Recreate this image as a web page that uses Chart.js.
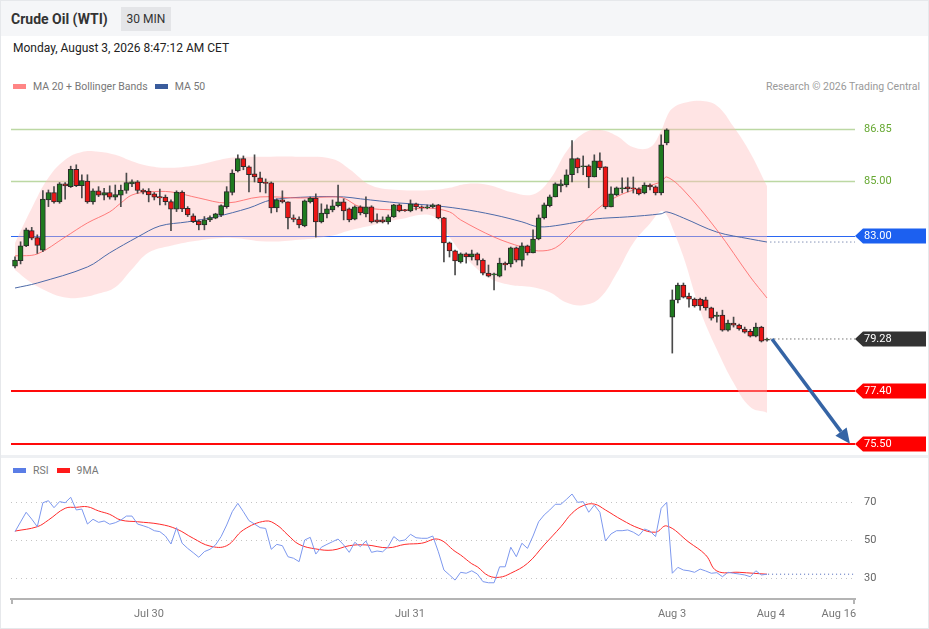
<!DOCTYPE html>
<html>
<head>
<meta charset="utf-8">
<script src="https://cdn.jsdelivr.net/npm/chart.js"></script>
<style>
    body { margin: 0; background: #fff; font-family: Roboto, "Liberation Sans", Arial, sans-serif; }
    #wrap { position: relative; width: 929px; height: 629px; overflow: hidden; background: #fff; }
    #frame { position: absolute; left: 0; top: 0; width: 927px; height: 627px; border: 1px solid #e6e8eb; }
    #topbar { position: absolute; left: 1px; top: 1px; width: 927px; height: 35px; background: #f5f6f8; }
    #title { position: absolute; left: 11px; top: 10px; font-size: 14px; line-height: 18px; font-weight: bold; color: #333; }
    #tf { position: absolute; left: 121px; top: 7px; width: 50px; height: 24px; line-height: 24px; background: #e4e5e8; font-size: 12px; color: #333; text-align: center; }
    #date { position: absolute; left: 13px; top: 41px; font-size: 12px; line-height: 14px; color: #222; }
    .leg { position: absolute; font-size: 10.5px; line-height: 12px; color: #777; white-space: nowrap; }
    .leg i { display: inline-block; width: 13px; height: 5px; margin: 0 7px 1px 0; vertical-align: middle; }
    #credit { position: absolute; right: 9px; top: 81px; font-size: 10.5px; line-height: 12px; color: #999; }
    #sep { position: absolute; left: 1px; top: 455px; width: 927px; height: 3px; background: #eef0f3; }
    canvas { position: absolute; left: 0; }
    #price { top: 95px; }
    #rsi { top: 480px; }
</style>
</head>
<body>
<div id="wrap">
    <div id="frame"></div>
    <div id="topbar"></div>
    <div id="title">Crude Oil (WTI)</div>
    <div id="tf">30 MIN</div>
    <div id="date">Monday, August 3, 2026 8:47:12 AM CET</div>
    <div class="leg" style="left:13px;top:81px"><i style="background:#ff8585"></i>MA 20 + Bollinger Bands<i style="background:#3a5c9c;margin-left:7px"></i>MA 50</div>
    <div id="credit">Research © 2026 Trading Central</div>
    <div id="sep"></div>
    <div class="leg" style="left:13px;top:465px"><i style="background:#5a7de6"></i>RSI<i style="background:#ff1a1a;margin-left:8px"></i>9MA</div>
    <canvas id="price" width="929" height="360"></canvas>
    <canvas id="rsi" width="929" height="148"></canvas>
</div>
<script>
// ------------- DATI -------------
// 30 min candles, index 0 = first bar on the chart
var opens = [
    81.91,82.11,82.64,83.19,82.94,82.49,84.30,84.57,84.23,84.88,
    84.78,85.41,84.82,84.98,84.23,84.63,84.47,84.57,84.40,84.47,
    84.64,84.88,84.95,84.66,84.62,84.52,84.42,84.40,84.24,83.97,
    84.58,84.00,83.73,83.54,83.40,83.58,83.64,83.76,84.06,84.57,
    85.35,85.79,85.50,85.24,85.10,84.93,84.92,84.01,84.30,84.23,
    83.65,83.61,83.36,84.23,84.37,83.51,83.80,83.94,84.09,84.23,
    83.98,83.61,84.05,83.80,84.05,83.58,83.58,83.51,83.69,84.12,
    83.94,83.90,84.16,84.05,84.01,84.05,84.12,83.65,82.75,82.46,
    82.06,82.35,82.24,82.35,82.13,81.66,81.59,81.55,82.02,81.99,
    82.57,82.13,82.64,82.39,82.89,83.65,84.09,84.41,84.81,84.84,
    85.21,85.79,85.50,85.53,85.13,85.71,85.50,84.05,84.48,84.70,
    84.77,84.74,84.70,84.55,84.84,84.77,84.55,86.36,80.07,80.69,
    81.23,80.83,80.72,80.72,80.69,80.40,80.09,80.14,79.60,79.85,
    79.78,79.64,79.56,79.38,79.71,79.24];
var highs = [
    82.25,82.79,83.28,83.31,83.04,84.64,84.66,84.78,84.93,84.93,
    85.52,85.57,85.21,85.21,84.70,84.78,84.72,84.81,84.84,84.84,
    85.27,85.03,85.00,84.70,84.71,84.57,84.69,84.48,84.30,84.63,
    84.63,84.06,83.80,83.58,83.70,83.73,83.82,84.12,84.78,85.39,
    85.93,85.89,85.53,85.93,85.31,85.06,84.95,84.34,84.63,84.23,
    83.76,83.69,84.30,84.41,84.52,84.16,84.12,84.30,84.84,84.34,
    84.01,84.09,84.09,84.41,84.09,83.80,83.69,83.76,84.14,84.16,
    83.96,84.30,84.19,84.09,84.12,84.16,84.14,83.67,82.78,82.49,
    82.39,82.39,82.49,82.39,82.17,81.95,81.66,82.20,82.06,82.60,
    82.60,82.75,82.67,83.22,83.76,84.19,84.48,84.92,85.03,85.39,
    86.44,85.82,85.89,85.57,85.93,86.00,85.50,84.77,84.77,85.10,
    85.10,85.13,84.74,84.92,84.88,84.81,86.65,86.87,81.05,81.30,
    81.30,80.94,80.76,80.76,80.79,80.43,80.25,80.32,79.96,80.07,
    79.82,79.71,79.63,79.85,79.74,79.31];
var lows = [
    81.85,81.99,82.61,82.86,82.37,82.43,84.06,84.18,84.18,84.33,
    84.75,84.78,84.37,84.18,84.15,84.42,84.30,84.33,84.30,84.06,
    84.54,84.78,84.54,84.52,84.23,84.30,84.12,84.12,83.19,83.88,
    83.88,83.70,83.48,83.22,83.22,83.52,83.62,83.70,84.00,84.48,
    85.31,85.39,84.59,84.95,84.59,84.55,83.83,83.87,84.19,83.25,
    83.51,83.29,83.33,84.19,82.96,83.47,83.65,83.87,84.05,83.58,
    83.51,83.58,83.76,83.69,83.47,83.47,83.47,83.43,83.67,83.87,
    83.89,83.87,83.94,83.90,83.98,84.01,83.62,82.06,82.24,81.59,
    82.02,82.02,82.13,81.95,81.59,81.52,81.05,81.52,81.77,81.88,
    82.06,81.91,82.31,82.39,82.86,83.61,84.05,84.41,84.59,84.77,
    84.95,85.28,85.21,84.74,85.13,85.39,83.98,84.05,84.45,84.55,
    84.59,84.55,84.48,84.52,84.66,84.48,84.48,86.29,78.77,80.58,
    80.76,80.43,80.43,80.32,80.32,79.96,79.89,79.56,79.56,79.71,
    79.60,79.49,79.35,79.35,79.17,79.20];
var closes = [
    82.13,82.64,83.22,82.92,82.66,84.33,84.57,84.23,84.88,84.81,
    85.41,84.82,85.00,84.23,84.63,84.47,84.57,84.40,84.49,84.66,
    84.93,84.95,84.64,84.59,84.48,84.40,84.37,84.24,83.97,84.58,
    83.98,83.76,83.52,83.40,83.58,83.66,83.80,84.10,84.60,85.27,
    85.79,85.50,85.21,85.13,84.92,84.90,84.01,84.30,84.23,83.65,
    83.60,83.40,84.27,84.37,83.51,83.83,83.98,84.09,84.23,83.90,
    83.58,84.05,83.83,84.05,83.51,83.51,83.51,83.69,84.12,83.90,
    83.91,84.16,84.05,84.01,84.05,84.12,83.65,82.75,82.46,82.10,
    82.35,82.24,82.35,82.13,81.66,81.55,81.63,82.02,81.95,82.57,
    82.13,82.64,82.39,82.89,83.65,84.12,84.41,84.88,84.88,85.21,
    85.79,85.46,85.53,85.13,85.71,85.46,84.05,84.52,84.74,84.74,
    84.70,84.70,84.52,84.84,84.77,84.55,86.29,86.83,80.69,81.23,
    80.79,80.72,80.47,80.47,80.40,80.03,80.14,79.60,79.85,79.78,
    79.64,79.53,79.38,79.71,79.20,79.28];

// Bollinger bands (20) sampled at these bar indices
var bandIdx = [0,3,6,9,12,15,18,21,24,28,33,39,45,51,57,60,64,69,75,78,
               81,85,89,93,96,99,102,105,108,111,114,116,117,118,120,123,126,129,132,135];
var bbUpper = [82.75,84.00,85.10,85.75,86.03,86.04,85.93,85.70,85.53,85.46,
               85.57,85.83,85.86,85.86,85.78,85.42,84.82,84.66,84.66,84.74,
               84.88,84.84,84.59,84.50,85.03,86.05,86.70,86.83,86.62,86.20,
               86.20,86.80,87.30,87.60,87.80,87.88,87.70,86.94,86.00,84.80];
var bbLower = [81.77,81.30,80.98,80.78,80.78,80.92,81.15,81.80,82.40,82.65,
               82.84,82.93,82.80,82.86,83.02,83.20,83.38,83.60,83.72,82.95,
               82.20,81.50,81.23,81.15,80.97,80.60,80.50,80.76,81.65,82.75,
               83.45,83.90,83.75,83.30,82.25,80.32,78.90,77.70,76.82,76.62];

var ma20Idx = [0,4,9,13,17,19,21,24,28,33,38,44,51,57,59,62,69,74,78,80,86,91,94,97,100,103,106,110,116,117,120,126,132,135];
var ma20 = [82.28,82.35,82.96,83.47,83.87,84.19,84.48,84.59,84.59,84.37,84.19,84.41,84.37,84.41,84.37,84.05,83.94,
            84.01,83.87,83.58,82.96,82.60,82.46,82.57,83.11,83.69,84.19,84.59,84.95,85.13,84.66,83.22,81.52,80.76];
var ma50Idx = [0,4,13,17,22,26,31,36,42,46,53,59,62,69,74,80,86,91,94,98,104,110,116,117,120,126,132,135];
var ma50 = [81.12,81.30,81.88,82.39,82.96,83.36,83.51,83.69,84.01,84.30,84.41,84.41,84.34,84.19,
            84.12,83.98,83.76,83.51,83.33,83.40,83.61,83.69,83.80,83.87,83.65,83.14,82.89,82.78];

// key levels on the right
var levelValues = [86.85, 85.00, 83.00, 79.28, 77.40, 75.50];
var levelKinds = ['resistance', 'resistance', 'pivot', 'last', 'support', 'support'];

// RSI(14) per bar and its 9 period average
var rsi = [
    54.4,59.5,64.6,61.0,57.0,69.6,70.7,67.0,70.2,69.6,
    72.5,65.8,66.3,58.4,60.9,59.3,60.0,58.3,59.1,60.5,
    62.6,62.6,58.4,57.5,56.5,54.9,54.4,52.1,47.9,56.5,
    48.3,45.6,43.3,40.9,43.9,45.1,47.4,51.8,57.9,64.9,
    69.3,64.9,60.2,58.4,56.5,56.1,45.1,47.7,47.0,41.2,
    40.4,38.6,50.0,51.4,42.6,46.2,47.7,49.1,50.5,47.4,
    43.5,48.8,46.5,49.5,43.5,44.2,43.8,46.5,51.8,49.5,
    50.0,53.0,51.2,50.9,50.9,52.1,43.8,34.2,31.6,28.9,
    33.0,32.5,33.8,32.1,28.1,27.5,27.5,35.9,35.9,46.2,
    41.2,48.3,45.6,52.1,59.6,63.2,65.8,68.8,68.8,71.4,
    74.2,69.8,70.2,64.6,68.4,64.6,49.5,53.2,54.9,54.9,
    55.3,54.1,52.3,55.8,54.7,51.8,66.7,69.8,32.5,35.6,
    34.2,33.8,33.0,34.7,33.7,32.5,32.8,30.7,33.0,32.5,
    32.1,31.6,30.7,33.8,31.6,32.0];
var ma9Idx = [0,4,6,9,11,13,15,17,19,22,26,29,32,35,38,41,45,47,49,51,54,57,60,63,67,70,73,76,79,80,
              82,83,85,87,89,92,95,98,100,102,104,106,109,112,115,117,121,124,126,130,135];
var ma9 = [54.7,57.0,60.5,66.7,67.2,67.5,65.3,63.5,60.5,59.6,58.3,55.8,50.9,46.8,47.0,55.3,60.0,57.9,52.6,47.7,
           45.3,44.7,47.0,47.4,45.9,47.7,48.3,50.4,44.0,42.1,37.5,35.9,31.2,30.4,32.5,37.7,47.4,57.0,64.1,68.1,
           68.9,65.8,60.5,56.2,54.1,57.4,48.8,42.1,33.7,33.0,32.0];
var rsiTicks = [30, 50, 70];

// time axis (bar index where each label sits)
var tickPos = [24.05, 70.9, 117.95, 135.7, 147.9];
var tickLabels = ['Jul 30', 'Jul 31', 'Aug 3', 'Aug 4', 'Aug 16'];

// ------------- SCALE -------------
var xMin = -0.72, xMax = 150.8;
var priceMin = 75.09, priceMax = 88.09;
var rsiMin = 18.95, rsiMax = 81.58;

Chart.defaults.font.family = 'Roboto, "Liberation Sans", Arial, sans-serif';

function pts(xs, ys) {
    return xs.map(function (x, i) { return { x: x, y: ys[i] }; });
}

var idx = closes.map(function (c, i) { return i; });
var last = closes.length - 1;
var GREEN = '#1f7a1f', RED = '#ec1515';
var bodyColors = closes.map(function (c, i) { return c >= opens[i] ? GREEN : RED; });

var levelStyles = {
    resistance: { line: '#bcd8a3', width: 1.5, text: '#66a832' },
    pivot: { line: '#2a66f2', width: 1, tag: '#1c60f0' },
    last: { line: null, tag: '#333333' },
    support: { line: '#ff0a0a', width: 2, tag: '#ff0000' }
};

// ------------- GRAFICO PREZZO -------------
var levelsPlugin = {
    id: 'levels',
    beforeDatasetsDraw: function (chart) {
        var ctx = chart.ctx, a = chart.chartArea, y = chart.scales.y;
        levelValues.forEach(function (v, i) {
            var st = levelStyles[levelKinds[i]];
            if (!st.line) return;
            var py = Math.round(y.getPixelForValue(v)) + (st.width % 2 ? 0.5 : 0);
            ctx.save();
            ctx.strokeStyle = st.line;
            ctx.lineWidth = st.width;
            ctx.beginPath();
            ctx.moveTo(a.left, py);
            ctx.lineTo(a.right, py);
            ctx.stroke();
            ctx.restore();
        });
    },
    afterDraw: function (chart) {
        var ctx = chart.ctx, a = chart.chartArea, x = chart.scales.x, y = chart.scales.y;
        ctx.save();
        ctx.font = '11px Roboto, "Liberation Sans", Arial, sans-serif';
        ctx.textBaseline = 'middle';
        levelValues.forEach(function (v, i) {
            var st = levelStyles[levelKinds[i]];
            var py = Math.round(y.getPixelForValue(v));
            if (st.tag) {
                var x1 = a.right + 8, x2 = chart.width - 3, h = 15;
                ctx.fillStyle = st.tag;
                ctx.beginPath();
                ctx.moveTo(a.right, py);
                ctx.lineTo(x1, py - h / 2);
                ctx.lineTo(x2, py - h / 2);
                ctx.lineTo(x2, py + h / 2);
                ctx.lineTo(x1, py + h / 2);
                ctx.closePath();
                ctx.fill();
                ctx.fillStyle = '#fff';
            } else {
                ctx.fillStyle = st.text;
            }
            ctx.fillText(v.toFixed(2), a.right + 9, py + 0.5);
        });

        // forecast arrow: from last close down to the last support
        var sx = x.getPixelForValue(last + 0.9), sy = y.getPixelForValue(closes[last]);
        var ex = x.getPixelForValue(149.9), ey = y.getPixelForValue(levelValues[5]);
        var ang = Math.atan2(ey - sy, ex - sx), len = 15, half = 7;
        var bx = ex - Math.cos(ang) * len, by = ey - Math.sin(ang) * len;
        ctx.strokeStyle = '#3564a5';
        ctx.fillStyle = '#3564a5';
        ctx.lineWidth = 3.5;
        ctx.beginPath();
        ctx.moveTo(sx, sy);
        ctx.lineTo(bx, by);
        ctx.stroke();
        ctx.beginPath();
        ctx.moveTo(ex, ey);
        ctx.lineTo(bx + Math.sin(ang) * half, by - Math.cos(ang) * half);
        ctx.lineTo(bx - Math.sin(ang) * half, by + Math.cos(ang) * half);
        ctx.closePath();
        ctx.fill();
        ctx.restore();
    }
};

new Chart(document.getElementById('price'), {
    type: 'bar',
    data: {
        datasets: [{
            type: 'line',
            label: 'BB upper',
            data: pts(bandIdx, bbUpper),
            borderWidth: 0,
            borderColor: 'rgba(0,0,0,0)',
            backgroundColor: 'rgba(255,188,188,0.4)',
            fill: '+1',
            pointRadius: 0,
            tension: 0.4,
            order: 9
        }, {
            type: 'line',
            label: 'BB lower',
            data: pts(bandIdx, bbLower),
            borderWidth: 0,
            borderColor: 'rgba(0,0,0,0)',
            fill: false,
            pointRadius: 0,
            tension: 0.4,
            order: 9
        }, {
            type: 'line',
            label: 'MA 20',
            data: pts(ma20Idx, ma20),
            borderColor: 'rgba(255,105,105,0.85)',
            borderWidth: 1,
            pointRadius: 0,
            tension: 0.35,
            order: 5
        }, {
            type: 'line',
            label: 'MA 50',
            data: pts(ma50Idx, ma50),
            borderColor: '#4d6aa8',
            borderWidth: 1,
            pointRadius: 0,
            tension: 0.35,
            order: 5
        }, {
            type: 'line',
            label: 'MA 50 ext',
            data: [{ x: last + 0.6, y: ma50[ma50.length - 1] }, { x: xMax, y: ma50[ma50.length - 1] }],
            borderColor: '#4a5f96',
            borderWidth: 1,
            borderDash: [1, 3],
            pointRadius: 0,
            order: 5
        }, {
            type: 'line',
            label: 'Last ext',
            data: [{ x: last + 0.6, y: closes[last] }, { x: xMax, y: closes[last] }],
            borderColor: '#333',
            borderWidth: 1,
            borderDash: [1, 3],
            pointRadius: 0,
            order: 5
        }, {
            label: 'wick',
            data: idx.map(function (i) { return { x: i, y: [lows[i], highs[i]] }; }),
            backgroundColor: '#4a4a4a',
            barThickness: 1,
            grouped: false,
            order: 2
        }, {
            label: 'body',
            data: idx.map(function (i) { return { x: i, y: [opens[i], closes[i]] }; }),
            backgroundColor: bodyColors,
            borderColor: '#2a2a2a',
            borderWidth: 1,
            borderSkipped: false,
            barThickness: 5,
            minBarLength: 1,
            grouped: false,
            order: 1
        }]
    },
    options: {
        responsive: false,
        animation: false,
        events: [],
        layout: { padding: { left: 11, right: 74, top: 0, bottom: 0 } },
        plugins: { legend: { display: false }, tooltip: { enabled: false } },
        scales: {
            x: { type: 'linear', min: xMin, max: xMax, offset: false, display: false },
            y: { type: 'linear', min: priceMin, max: priceMax, display: false }
        }
    },
    plugins: [levelsPlugin]
});

// ------------- GRAFICO RSI -------------
var axisEnds = {
    id: 'axisEnds',
    afterDraw: function (chart) {
        var ctx = chart.ctx, a = chart.chartArea;
        ctx.save();
        ctx.strokeStyle = '#b4b4b4';
        ctx.lineWidth = 2;
        [a.left + 1, a.right - 1].forEach(function (px) {
            ctx.beginPath();
            ctx.moveTo(px, a.bottom);
            ctx.lineTo(px, a.bottom + 5);
            ctx.stroke();
        });
        ctx.restore();
    }
};

new Chart(document.getElementById('rsi'), {
    type: 'line',
    data: {
        datasets: [{
            label: 'RSI',
            data: pts(idx, rsi),
            borderColor: '#7d98ee',
            borderWidth: 1,
            pointRadius: 0,
            tension: 0
        }, {
            label: '9MA',
            data: pts(ma9Idx, ma9),
            borderColor: '#ff2b2b',
            borderWidth: 1,
            pointRadius: 0,
            tension: 0.4
        }, {
            label: 'RSI ext',
            data: [{ x: last + 0.2, y: rsi[last] }, { x: xMax, y: rsi[last] }],
            borderColor: '#4a64b8',
            borderWidth: 1,
            borderDash: [1, 3],
            pointRadius: 0
        }]
    },
    options: {
        responsive: false,
        animation: false,
        events: [],
        layout: { padding: { left: 11, right: 0, top: 0, bottom: 0 } },
        plugins: { legend: { display: false }, tooltip: { enabled: false } },
        scales: {
            x: {
                type: 'linear', min: xMin, max: xMax,
                grid: { display: false },
                border: { display: true, color: '#b4b4b4', width: 2 },
                afterBuildTicks: function (s) { s.ticks = tickPos.map(function (v) { return { value: v }; }); },
                afterFit: function (s) { s.height = 29; s.paddingLeft = 0; s.paddingRight = 0; },
                ticks: {
                    autoSkip: false, maxRotation: 0, padding: 1, color: '#777', font: { size: 11 },
                    callback: function (v, i) { return tickLabels[i]; }
                }
            },
            y: {
                position: 'right', min: rsiMin, max: rsiMax,
                afterBuildTicks: function (s) { s.ticks = rsiTicks.map(function (v) { return { value: v }; }); },
                afterFit: function (s) { s.width = 74; s.paddingTop = 0; s.paddingBottom = 0; },
                grid: { color: '#c4c4c4', drawTicks: false },
                border: { display: false, dash: [1, 4] },
                ticks: { padding: 9, color: '#666', font: { size: 11 } }
            }
        }
    },
    plugins: [axisEnds]
});
</script>
</body>
</html>
